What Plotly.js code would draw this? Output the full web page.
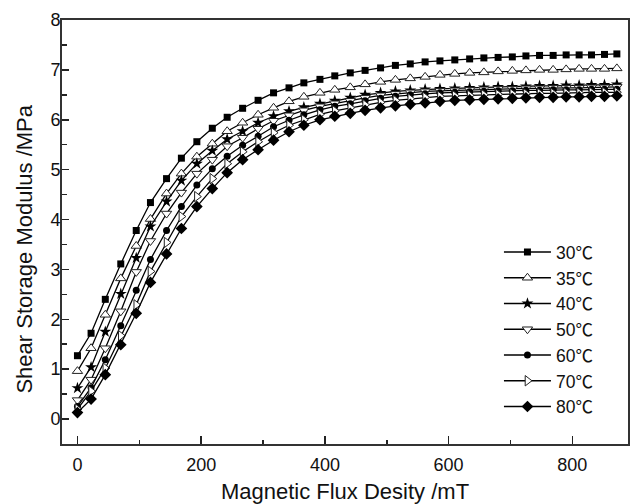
<!DOCTYPE html>
<html>
<head>
<meta charset="utf-8">
<script src="https://cdn.plot.ly/plotly-3.0.1.min.js"></script>
<style>html,body{margin:0;padding:0;background:#fff;}#chart{width:630px;height:504px;}</style>
</head>
<body>
<div id="chart"></div>
<script>
// Magnetic flux density (mT)
var fluxDensity = [0, 22, 45, 70, 95, 118, 144, 168, 193, 218, 242, 267, 292, 317, 342, 366, 392, 416, 441, 465, 490, 514, 538, 562, 586, 610, 634, 657, 680, 703, 725, 747, 769, 790, 811, 831, 852, 872];

// Shear storage modulus (MPa) per temperature
var modulus30 = [1.27,1.72,2.40,3.11,3.78,4.34,4.82,5.23,5.56,5.83,6.05,6.23,6.39,6.54,6.64,6.74,6.81,6.88,6.94,6.99,7.04,7.09,7.12,7.16,7.18,7.20,7.22,7.24,7.25,7.26,7.28,7.29,7.29,7.30,7.30,7.30,7.31,7.32];
var modulus35 = [0.96,1.42,2.09,2.82,3.47,4.01,4.52,4.92,5.26,5.52,5.77,5.94,6.10,6.24,6.37,6.46,6.54,6.60,6.65,6.71,6.76,6.80,6.83,6.86,6.90,6.92,6.94,6.95,6.97,6.98,6.99,7.00,7.00,7.01,7.02,7.02,7.02,7.03];
var modulus40 = [0.62,1.04,1.75,2.51,3.23,3.86,4.36,4.78,5.12,5.38,5.61,5.77,5.94,6.07,6.17,6.25,6.32,6.38,6.44,6.50,6.54,6.57,6.59,6.61,6.62,6.63,6.64,6.65,6.66,6.66,6.67,6.68,6.68,6.69,6.69,6.70,6.70,6.71];
var modulus50 = [0.38,0.79,1.42,2.16,2.95,3.57,4.12,4.54,4.92,5.20,5.47,5.64,5.82,5.98,6.09,6.19,6.27,6.33,6.38,6.44,6.49,6.52,6.55,6.57,6.58,6.59,6.60,6.61,6.62,6.62,6.63,6.63,6.64,6.64,6.64,6.65,6.65,6.66];
var modulus60 = [0.25,0.63,1.19,1.87,2.58,3.20,3.78,4.26,4.69,5.02,5.27,5.49,5.67,5.86,5.99,6.10,6.20,6.27,6.32,6.38,6.43,6.47,6.50,6.52,6.54,6.55,6.56,6.57,6.58,6.58,6.59,6.59,6.60,6.60,6.60,6.61,6.61,6.61];
var modulus70 = [0.20,0.56,1.02,1.67,2.29,2.96,3.54,4.06,4.46,4.82,5.12,5.36,5.56,5.74,5.89,6.00,6.11,6.18,6.24,6.30,6.35,6.39,6.42,6.45,6.47,6.48,6.49,6.50,6.51,6.52,6.52,6.53,6.53,6.54,6.54,6.55,6.55,6.55];
var modulus80 = [0.13,0.40,0.89,1.49,2.12,2.74,3.31,3.82,4.26,4.62,4.94,5.20,5.40,5.59,5.76,5.89,6.00,6.07,6.13,6.19,6.24,6.28,6.31,6.34,6.37,6.39,6.40,6.41,6.42,6.43,6.44,6.45,6.45,6.46,6.46,6.47,6.47,6.48];

var temperatures = ['30', '35', '40', '50', '60', '70', '80'];
var xTickVals = [0, 200, 400, 600, 800];
var yTickVals = [0, 1, 2, 3, 4, 5, 6, 7, 8];
var xTitle = 'Magnetic Flux Desity /mT';
var yTitle = 'Shear Storage Modulus /MPa';

var seriesData = [modulus30, modulus35, modulus40, modulus50, modulus60, modulus70, modulus80];
var markerStyles = [
  {symbol: 'square', size: 7, color: '#000', line: {color: '#000', width: 0}},
  {symbol: 'triangle-up', size: 9, color: '#fff', line: {color: '#222', width: 1}},
  {symbol: 'star', size: 9, color: '#000', line: {color: '#000', width: 0}},
  {symbol: 'triangle-down', size: 9, color: '#fff', line: {color: '#222', width: 1}},
  {symbol: 'circle', size: 7, color: '#000', line: {color: '#000', width: 0}},
  {symbol: 'triangle-right', size: 9, color: '#fff', line: {color: '#222', width: 1}},
  {symbol: 'diamond', size: 9, color: '#000', line: {color: '#000', width: 0}}
];

var traces = seriesData.map(function (ys, i) {
  return {
    x: fluxDensity,
    y: ys,
    name: temperatures[i] + '<span style="font-family:Noto Sans CJK SC">℃</span>',
    type: 'scatter',
    mode: 'lines+markers',
    line: {color: '#000', width: 1.3},
    marker: markerStyles[i]
  };
});

var fontFamily = 'Liberation Sans, Arial, Helvetica, sans-serif';

var layout = {
  width: 630,
  height: 504,
  margin: {l: 62, r: 2, t: 20, b: 60},
  paper_bgcolor: '#fff',
  plot_bgcolor: '#fff',
  font: {family: fontFamily, color: '#111', size: 17},
  showlegend: true,
  legend: {
    x: 0.772, y: 0.495, xanchor: 'left', yanchor: 'top',
    bgcolor: 'rgba(0,0,0,0)', borderwidth: 0,
    itemwidth: 47,
    font: {family: fontFamily, size: 17.5, color: '#111'},
    tracegroupgap: 0
  },
  xaxis: {
    range: [-25, 890],
    tickvals: xTickVals,
    ticktext: xTickVals.map(String),
    ticks: 'inside', ticklen: 8, tickwidth: 1.5, tickcolor: '#222',
    minor: {dtick: 100, tick0: 0, ticks: 'inside', ticklen: 4, tickwidth: 1.5, tickcolor: '#222'},
    showline: true, linewidth: 2, linecolor: '#333', mirror: true,
    showgrid: false, zeroline: false,
    ticklabelstandoff: 3,
    tickfont: {family: fontFamily, size: 18, color: '#111'},
    title: {text: xTitle, font: {family: fontFamily, size: 22, color: '#111'}, standoff: 14}
  },
  yaxis: {
    range: [-0.5, 8],
    tickvals: yTickVals,
    ticktext: yTickVals.map(String),
    ticks: 'inside', ticklen: 7, tickwidth: 1.5, tickcolor: '#222',
    minor: {dtick: 0.5, tick0: 0, ticks: 'inside', ticklen: 5, tickwidth: 1.5, tickcolor: '#222'},
    showline: true, linewidth: 2, linecolor: '#333', mirror: true,
    showgrid: false, zeroline: false,
    ticklabelstandoff: -4,
    tickfont: {family: fontFamily, size: 18, color: '#111'}
  },
  annotations: [{
    text: yTitle,
    xref: 'paper', yref: 'paper',
    x: -0.066, y: 0.46,
    xanchor: 'center', yanchor: 'middle',
    textangle: -90,
    showarrow: false,
    font: {family: fontFamily, size: 22, color: '#111'}
  }]
};

Plotly.newPlot('chart', traces, layout, {displayModeBar: false, staticPlot: true});
</script>
</body>
</html>
